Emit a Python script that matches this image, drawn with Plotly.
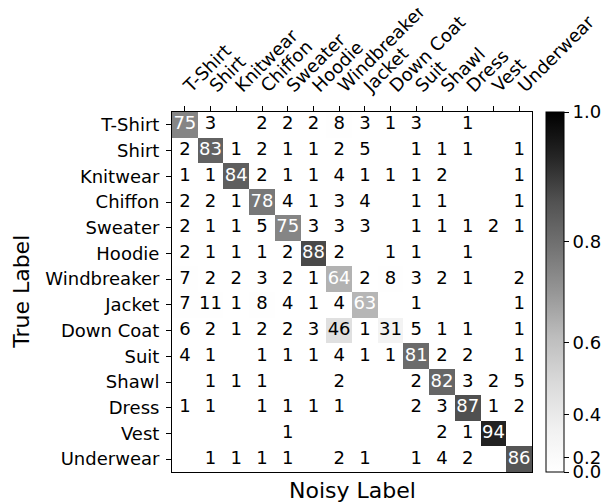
import numpy as np
import plotly.graph_objects as go

labels = ["T-Shirt", "Shirt", "Knitwear", "Chiffon", "Sweater", "Hoodie", "Windbreaker",
          "Jacket", "Down Coat", "Suit", "Shawl", "Dress", "Vest", "Underwear"]

# percent of samples (rows = true label, columns = noisy label); 0 = empty cell
row_tshirt      = [75, 3, 0, 2, 2, 2, 8, 3, 1, 3, 0, 1, 0, 0]
row_shirt       = [2, 83, 1, 2, 1, 1, 2, 5, 0, 1, 1, 1, 0, 1]
row_knitwear    = [1, 1, 84, 2, 1, 1, 4, 1, 1, 1, 2, 0, 0, 1]
row_chiffon     = [2, 2, 1, 78, 4, 1, 3, 4, 0, 1, 1, 0, 0, 1]
row_sweater     = [2, 1, 1, 5, 75, 3, 3, 3, 0, 1, 1, 1, 2, 1]
row_hoodie      = [2, 1, 1, 1, 2, 88, 2, 0, 1, 1, 0, 1, 0, 0]
row_windbreaker = [7, 2, 2, 3, 2, 1, 64, 2, 8, 3, 2, 1, 0, 2]
row_jacket      = [7, 11, 1, 8, 4, 1, 4, 63, 0, 1, 0, 0, 0, 1]
row_downcoat    = [6, 2, 1, 2, 2, 3, 46, 1, 31, 5, 1, 1, 0, 1]
row_suit        = [4, 1, 0, 1, 1, 1, 4, 1, 1, 81, 2, 2, 0, 1]
row_shawl       = [0, 1, 1, 1, 0, 0, 2, 0, 0, 2, 82, 3, 2, 5]
row_dress       = [1, 1, 0, 1, 1, 1, 1, 0, 0, 2, 3, 87, 1, 2]
row_vest        = [0, 0, 0, 0, 1, 0, 0, 0, 0, 0, 2, 1, 94, 0]
row_underwear   = [0, 1, 1, 1, 1, 0, 2, 1, 0, 1, 4, 2, 0, 86]

cbar_ticks = [0.0, 0.2, 0.4, 0.6, 0.8, 1.0]

rows = [row_tshirt, row_shirt, row_knitwear, row_chiffon, row_sweater, row_hoodie,
        row_windbreaker, row_jacket, row_downcoat, row_suit, row_shawl, row_dress,
        row_vest, row_underwear]
M = np.array(rows, dtype=float) / 100.0
gamma = 2.0
Z = M ** gamma  # power norm

greys = ["#ffffff", "#f0f0f0", "#d9d9d9", "#bdbdbd", "#969696",
         "#737373", "#525252", "#252525", "#000000"]
colorscale = [[i / (len(greys) - 1), c] for i, c in enumerate(greys)]

FONT = "DejaVu Sans"
FS = 18

fig = go.Figure()
fig.add_trace(go.Heatmap(
    z=Z, x=labels, y=labels, zmin=0, zmax=1, colorscale=colorscale,
    showscale=True, hoverinfo="skip",
    colorbar=dict(
        x=1.039, xanchor="left", xpad=0, ypad=0, y=0.5, yanchor="middle",
        len=1, lenmode="fraction", thickness=18, thicknessmode="pixels",
        outlinewidth=1, outlinecolor="black",
        tickvals=[t ** gamma for t in cbar_ticks],
        ticktext=[f"{t:.1f}" for t in cbar_ticks],
        ticks="outside", ticklen=5, tickcolor="black", tickwidth=1,
        tickfont=dict(family=FONT, size=FS, color="black"),
    ),
))

tx, ty, tt, tc = [], [], [], []
for i, r in enumerate(rows):
    for j, v in enumerate(r):
        if v > 0:
            tx.append(labels[j]); ty.append(labels[i]); tt.append(str(v))
            tc.append("white" if v > 50 else "black")
fig.add_trace(go.Scatter(
    x=tx, y=ty, text=tt, mode="text", hoverinfo="skip", showlegend=False,
    textfont=dict(family=FONT, size=FS, color=tc),
))

fig.update_xaxes(
    side="top", tickangle=-45, ticks="outside", ticklen=5, tickcolor="black",
    showline=True, mirror=True, linecolor="black", linewidth=1, showgrid=False,
    zeroline=False, tickfont=dict(family=FONT, size=FS, color="black"),
    categoryorder="array", categoryarray=labels, range=[-0.5, 13.5],
    automargin=False, ticklabelstandoff=3,
)
fig.update_yaxes(
    ticks="outside", ticklen=5, tickcolor="black",
    showline=True, mirror=True, linecolor="black", linewidth=1, showgrid=False,
    zeroline=False, tickfont=dict(family=FONT, size=FS, color="black"),
    categoryorder="array", categoryarray=labels, range=[13.5, -0.5],
    automargin=False, ticklabelstandoff=3,
)

# page body has an 8px default margin, so the figure is sized/offset to compensate
fig.update_layout(
    width=601, height=495,
    margin=dict(l=164, r=77, t=104, b=31, autoexpand=False),
    plot_bgcolor="white", paper_bgcolor="white",
    font=dict(family=FONT, color="black"),
    showlegend=False,
    annotations=[
        dict(text="Noisy Label", xref="paper", yref="paper", x=0.5, y=-0.05,
             xanchor="center", yanchor="middle", showarrow=False,
             font=dict(family=FONT, size=22, color="black")),
        dict(text="True Label", xref="paper", yref="paper", x=-0.42, y=0.5,
             xanchor="center", yanchor="middle", textangle=-90, showarrow=False,
             font=dict(family=FONT, size=22, color="black")),
    ],
)

fig.write_html("out.html")
